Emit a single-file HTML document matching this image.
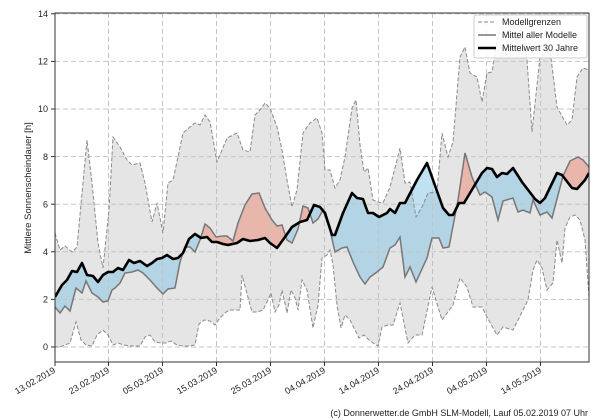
<!DOCTYPE html>
<html><head><meta charset="utf-8"><style>
body{margin:0;background:#fff;}
svg{display:block;font-family:"Liberation Sans","DejaVu Sans",sans-serif;}
</style></head><body>
<svg width="600" height="420" viewBox="0 0 600 420" xmlns="http://www.w3.org/2000/svg">
<defs>
<clipPath id="plot"><rect x="55" y="13" width="534" height="349"/></clipPath>
<clipPath id="below"><polygon points="55,297 62,285 67,280 72,271 77,272 82,263 87,275 93,276 98,282 103,275 108,272 113,272 118,268 123,270 129,260 134,263 140,261 147,266 152,263 157,259 162,258 167,255 173,259 178,258 183,253 189,239 195,234 201,238 207,237 212,242 217,242 223,244 228,245 237,243 243,239 250,241 258,240 265,238 270,243 277,248 285,237 292,227 300,222 307,220 314,205 320,207 325,213 332,235 335,235 343,213 352,193 357,198 363,199 368,213 373,213 379,217 387,213 390,209 395,213 400,203 405,203 417,180 427,163 443,208 449,215 453,215 459,203 464,203 482,173 487,168 492,169 497,177 502,173 507,174 513,168 522,182 535,199 540,203 545,198 557,173 562,175 572,188 577,189 585,180 589,173 589,420 55,420"/></clipPath>
<clipPath id="above"><polygon points="55,297 62,285 67,280 72,271 77,272 82,263 87,275 93,276 98,282 103,275 108,272 113,272 118,268 123,270 129,260 134,263 140,261 147,266 152,263 157,259 162,258 167,255 173,259 178,258 183,253 189,239 195,234 201,238 207,237 212,242 217,242 223,244 228,245 237,243 243,239 250,241 258,240 265,238 270,243 277,248 285,237 292,227 300,222 307,220 314,205 320,207 325,213 332,235 335,235 343,213 352,193 357,198 363,199 368,213 373,213 379,217 387,213 390,209 395,213 400,203 405,203 417,180 427,163 443,208 449,215 453,215 459,203 464,203 482,173 487,168 492,169 497,177 502,173 507,174 513,168 522,182 535,199 540,203 545,198 557,173 562,175 572,188 577,189 585,180 589,173 589,0 55,0"/></clipPath>
</defs>
<g clip-path="url(#plot)">
<polygon fill="#e5e5e5" stroke="none" points="55,233 60,250 65,246 72,252 77,247 87,140 92,183 98,243 103,268 109,210 113,137 120,147 127,160 132,165 140,163 145,183 152,222 157,203 163,233 168,183 173,180 178,157 183,133 190,127 195,123 200,125 205,115 210,122 217,162 222,150 227,138 237,133 243,150 250,152 255,115 260,110 265,103 270,108 277,127 282,150 287,180 292,207 297,190 303,133 310,123 317,118 322,133 325,170 330,170 335,188 340,180 345,157 352,108 356,100 360,145 364,172 368,168 373,200 378,202 383,203 390,187 397,160 400,148 405,183 410,182 416,217 422,207 428,193 437,192 442,133 448,157 453,142 460,57 465,47 470,73 477,77 482,102 487,73 492,72 497,40 502,27 507,20 512,18 517,40 522,25 527,60 532,132 540,57 550,50 557,107 567,125 572,120 577,77 583,68 589,70 589,297 585,240 580,220 575,215 570,217 565,228 562,263 557,240 553,283 547,290 542,268 537,260 533,270 528,300 518,320 513,330 503,327 497,335 487,317 482,307 473,307 467,287 460,278 453,305 442,320 432,287 422,335 415,335 408,343 400,303 393,325 388,325 382,327 378,346 373,343 368,339 364,335 359,338 355,330 350,320 345,315 341,328 337,305 333,265 330,250 327,255 322,258 318,305 313,328 307,290 302,280 298,310 295,298 291,290 287,313 282,290 279,305 275,312 271,293 268,300 263,310 257,312 252,312 246,290 242,275 240,310 236,310 231,310 226,312 220,318 215,325 210,321 204,320 199,324 195,345 189,346 183,346 177,345 171,341 166,343 161,343 155,342 150,335 145,337 140,346 135,346 130,346 124,345 118,343 113,345 108,335 103,330 97,335 92,346 86,345 81,340 76,322 70,343 65,345 60,347 55,347"/>
<g fill-rule="evenodd">
<polygon clip-path="url(#below)" fill="rgba(130,195,228,0.5)" points="55,307 60,313 65,306 70,311 76,288 82,293 86,281 92,293 98,297 103,302 108,301 112,290 115,288 120,283 125,273 132,272 138,270 143,273 150,280 157,288 163,294 168,289 175,288 180,262 185,247 190,247 195,252 200,240 205,224 210,228 216,237 223,236 227,236 233,241 238,223 245,205 252,194 259,193 265,208 272,220 277,226 282,225 287,240 292,243 298,229 303,206 308,208 313,223 318,219 323,210 330,230 335,252 342,248 347,247 353,262 360,277 365,284 370,277 377,272 383,267 390,248 395,245 400,237 405,277 410,267 416,282 427,258 432,238 439,238 443,248 449,247 458,200 465,153 472,177 480,195 485,192 492,197 498,220 503,201 513,198 518,212 523,210 530,213 533,200 540,215 547,212 552,218 563,176 570,161 578,157 583,160 589,167 589,173 585,180 577,189 572,188 562,175 557,173 545,198 540,203 535,199 522,182 513,168 507,174 502,173 497,177 492,169 487,168 482,173 464,203 459,203 453,215 449,215 443,208 427,163 417,180 405,203 400,203 395,213 390,209 387,213 379,217 373,213 368,213 363,199 357,198 352,193 343,213 335,235 332,235 325,213 320,207 314,205 307,220 300,222 292,227 285,237 277,248 270,243 265,238 258,240 250,241 243,239 237,243 228,245 223,244 217,242 212,242 207,237 201,238 195,234 189,239 183,253 178,258 173,259 167,255 162,258 157,259 152,263 147,266 140,261 134,263 129,260 123,270 118,268 113,272 108,272 103,275 98,282 93,276 87,275 82,263 77,272 72,271 67,280 62,285 55,297"/>
<polygon clip-path="url(#above)" fill="rgba(238,135,115,0.5)" points="55,307 60,313 65,306 70,311 76,288 82,293 86,281 92,293 98,297 103,302 108,301 112,290 115,288 120,283 125,273 132,272 138,270 143,273 150,280 157,288 163,294 168,289 175,288 180,262 185,247 190,247 195,252 200,240 205,224 210,228 216,237 223,236 227,236 233,241 238,223 245,205 252,194 259,193 265,208 272,220 277,226 282,225 287,240 292,243 298,229 303,206 308,208 313,223 318,219 323,210 330,230 335,252 342,248 347,247 353,262 360,277 365,284 370,277 377,272 383,267 390,248 395,245 400,237 405,277 410,267 416,282 427,258 432,238 439,238 443,248 449,247 458,200 465,153 472,177 480,195 485,192 492,197 498,220 503,201 513,198 518,212 523,210 530,213 533,200 540,215 547,212 552,218 563,176 570,161 578,157 583,160 589,167 589,173 585,180 577,189 572,188 562,175 557,173 545,198 540,203 535,199 522,182 513,168 507,174 502,173 497,177 492,169 487,168 482,173 464,203 459,203 453,215 449,215 443,208 427,163 417,180 405,203 400,203 395,213 390,209 387,213 379,217 373,213 368,213 363,199 357,198 352,193 343,213 335,235 332,235 325,213 320,207 314,205 307,220 300,222 292,227 285,237 277,248 270,243 265,238 258,240 250,241 243,239 237,243 228,245 223,244 217,242 212,242 207,237 201,238 195,234 189,239 183,253 178,258 173,259 167,255 162,258 157,259 152,263 147,266 140,261 134,263 129,260 123,270 118,268 113,272 108,272 103,275 98,282 93,276 87,275 82,263 77,272 72,271 67,280 62,285 55,297"/>
</g>
<g stroke="#c4c4c4" stroke-width="1" stroke-dasharray="5,3">
<line x1="55" y1="347" x2="589" y2="347"/><line x1="55" y1="299.4" x2="589" y2="299.4"/><line x1="55" y1="251.8" x2="589" y2="251.8"/><line x1="55" y1="204.2" x2="589" y2="204.2"/><line x1="55" y1="156.6" x2="589" y2="156.6"/><line x1="55" y1="109" x2="589" y2="109"/><line x1="55" y1="61.4" x2="589" y2="61.4"/><line x1="55" y1="13.8" x2="589" y2="13.8"/>
<line x1="108.5" y1="13" x2="108.5" y2="362"/><line x1="162.5" y1="13" x2="162.5" y2="362"/><line x1="216.5" y1="13" x2="216.5" y2="362"/><line x1="270.5" y1="13" x2="270.5" y2="362"/><line x1="324.5" y1="13" x2="324.5" y2="362"/><line x1="378.5" y1="13" x2="378.5" y2="362"/><line x1="432.5" y1="13" x2="432.5" y2="362"/><line x1="486.5" y1="13" x2="486.5" y2="362"/><line x1="540.5" y1="13" x2="540.5" y2="362"/>
</g>
<g fill="none" stroke="#8a8a8a" stroke-width="1" stroke-dasharray="4,2">
<polyline points="55,233 60,250 65,246 72,252 77,247 87,140 92,183 98,243 103,268 109,210 113,137 120,147 127,160 132,165 140,163 145,183 152,222 157,203 163,233 168,183 173,180 178,157 183,133 190,127 195,123 200,125 205,115 210,122 217,162 222,150 227,138 237,133 243,150 250,152 255,115 260,110 265,103 270,108 277,127 282,150 287,180 292,207 297,190 303,133 310,123 317,118 322,133 325,170 330,170 335,188 340,180 345,157 352,108 356,100 360,145 364,172 368,168 373,200 378,202 383,203 390,187 397,160 400,148 405,183 410,182 416,217 422,207 428,193 437,192 442,133 448,157 453,142 460,57 465,47 470,73 477,77 482,102 487,73 492,72 497,40 502,27 507,20 512,18 517,40 522,25 527,60 532,132 540,57 550,50 557,107 567,125 572,120 577,77 583,68 589,70"/>
<polyline points="589,297 585,240 580,220 575,215 570,217 565,228 562,263 557,240 553,283 547,290 542,268 537,260 533,270 528,300 518,320 513,330 503,327 497,335 487,317 482,307 473,307 467,287 460,278 453,305 442,320 432,287 422,335 415,335 408,343 400,303 393,325 388,325 382,327 378,346 373,343 368,339 364,335 359,338 355,330 350,320 345,315 341,328 337,305 333,265 330,250 327,255 322,258 318,305 313,328 307,290 302,280 298,310 295,298 291,290 287,313 282,290 279,305 275,312 271,293 268,300 263,310 257,312 252,312 246,290 242,275 240,310 236,310 231,310 226,312 220,318 215,325 210,321 204,320 199,324 195,345 189,346 183,346 177,345 171,341 166,343 161,343 155,342 150,335 145,337 140,346 135,346 130,346 124,345 118,343 113,345 108,335 103,330 97,335 92,346 86,345 81,340 76,322 70,343 65,345 60,347 55,347"/>
</g>
<polyline fill="none" stroke="#777" stroke-width="1.5" points="55,307 60,313 65,306 70,311 76,288 82,293 86,281 92,293 98,297 103,302 108,301 112,290 115,288 120,283 125,273 132,272 138,270 143,273 150,280 157,288 163,294 168,289 175,288 180,262 185,247 190,247 195,252 200,240 205,224 210,228 216,237 223,236 227,236 233,241 238,223 245,205 252,194 259,193 265,208 272,220 277,226 282,225 287,240 292,243 298,229 303,206 308,208 313,223 318,219 323,210 330,230 335,252 342,248 347,247 353,262 360,277 365,284 370,277 377,272 383,267 390,248 395,245 400,237 405,277 410,267 416,282 427,258 432,238 439,238 443,248 449,247 458,200 465,153 472,177 480,195 485,192 492,197 498,220 503,201 513,198 518,212 523,210 530,213 533,200 540,215 547,212 552,218 563,176 570,161 578,157 583,160 589,167"/>
<polyline fill="none" stroke="#000" stroke-width="2.6" stroke-linejoin="round" points="55,297 62,285 67,280 72,271 77,272 82,263 87,275 93,276 98,282 103,275 108,272 113,272 118,268 123,270 129,260 134,263 140,261 147,266 152,263 157,259 162,258 167,255 173,259 178,258 183,253 189,239 195,234 201,238 207,237 212,242 217,242 223,244 228,245 237,243 243,239 250,241 258,240 265,238 270,243 277,248 285,237 292,227 300,222 307,220 314,205 320,207 325,213 332,235 335,235 343,213 352,193 357,198 363,199 368,213 373,213 379,217 387,213 390,209 395,213 400,203 405,203 417,180 427,163 443,208 449,215 453,215 459,203 464,203 482,173 487,168 492,169 497,177 502,173 507,174 513,168 522,182 535,199 540,203 545,198 557,173 562,175 572,188 577,189 585,180 589,173"/>
</g>
<rect x="55" y="13" width="534" height="349" fill="none" stroke="#333" stroke-width="1"/>
<g stroke="#333" stroke-width="1">
<line x1="51" y1="347" x2="55" y2="347"/><line x1="51" y1="299.4" x2="55" y2="299.4"/><line x1="51" y1="251.8" x2="55" y2="251.8"/><line x1="51" y1="204.2" x2="55" y2="204.2"/><line x1="51" y1="156.6" x2="55" y2="156.6"/><line x1="51" y1="109" x2="55" y2="109"/><line x1="51" y1="61.4" x2="55" y2="61.4"/><line x1="51" y1="13.8" x2="55" y2="13.8"/>
<line x1="55" y1="362" x2="55" y2="366"/><line x1="108.5" y1="362" x2="108.5" y2="366"/><line x1="162.5" y1="362" x2="162.5" y2="366"/><line x1="216.5" y1="362" x2="216.5" y2="366"/><line x1="270.5" y1="362" x2="270.5" y2="366"/><line x1="324.5" y1="362" x2="324.5" y2="366"/><line x1="378.5" y1="362" x2="378.5" y2="366"/><line x1="432.5" y1="362" x2="432.5" y2="366"/><line x1="486.5" y1="362" x2="486.5" y2="366"/><line x1="540.5" y1="362" x2="540.5" y2="366"/>
</g>
<g font-size="9" fill="#222" text-anchor="end">
<text x="48" y="350">0</text><text x="48" y="302.5">2</text><text x="48" y="255">4</text><text x="48" y="207.5">6</text><text x="48" y="160">8</text><text x="48" y="112">10</text><text x="48" y="64.5">12</text><text x="48" y="17">14</text>
</g>
<g font-size="9" fill="#222" text-anchor="end">
<text transform="translate(56,372) rotate(-30)">13.02.2019</text>
<text transform="translate(110,372) rotate(-30)">23.02.2019</text>
<text transform="translate(164,372) rotate(-30)">05.03.2019</text>
<text transform="translate(218,372) rotate(-30)">15.03.2019</text>
<text transform="translate(272,372) rotate(-30)">25.03.2019</text>
<text transform="translate(326,372) rotate(-30)">04.04.2019</text>
<text transform="translate(380,372) rotate(-30)">14.04.2019</text>
<text transform="translate(434,372) rotate(-30)">24.04.2019</text>
<text transform="translate(488,372) rotate(-30)">04.05.2019</text>
<text transform="translate(542,372) rotate(-30)">14.05.2019</text>
</g>
<text transform="translate(31,188) rotate(-90)" font-size="9.5" fill="#222" text-anchor="middle">Mittlere Sonnenscheindauer [h]</text>
<text x="588" y="416" font-size="9" fill="#222" text-anchor="end">(c) Donnerwetter.de GmbH SLM-Modell, Lauf 05.02.2019 07 Uhr</text>
<rect x="474" y="15" width="113" height="43" rx="2" fill="#fff" fill-opacity="0.85" stroke="#ccc"/>
<line x1="478" y1="22" x2="496" y2="22" stroke="#888" stroke-dasharray="4,2"/>
<line x1="478" y1="35" x2="496" y2="35" stroke="#777" stroke-width="1.5"/>
<line x1="478" y1="48" x2="496" y2="48" stroke="#000" stroke-width="2.6"/>
<g font-size="9" fill="#222">
<text x="502" y="25">Modellgrenzen</text>
<text x="502" y="38">Mittel aller Modelle</text>
<text x="502" y="51">Mittelwert 30 Jahre</text>
</g>
</svg>
</body></html>
